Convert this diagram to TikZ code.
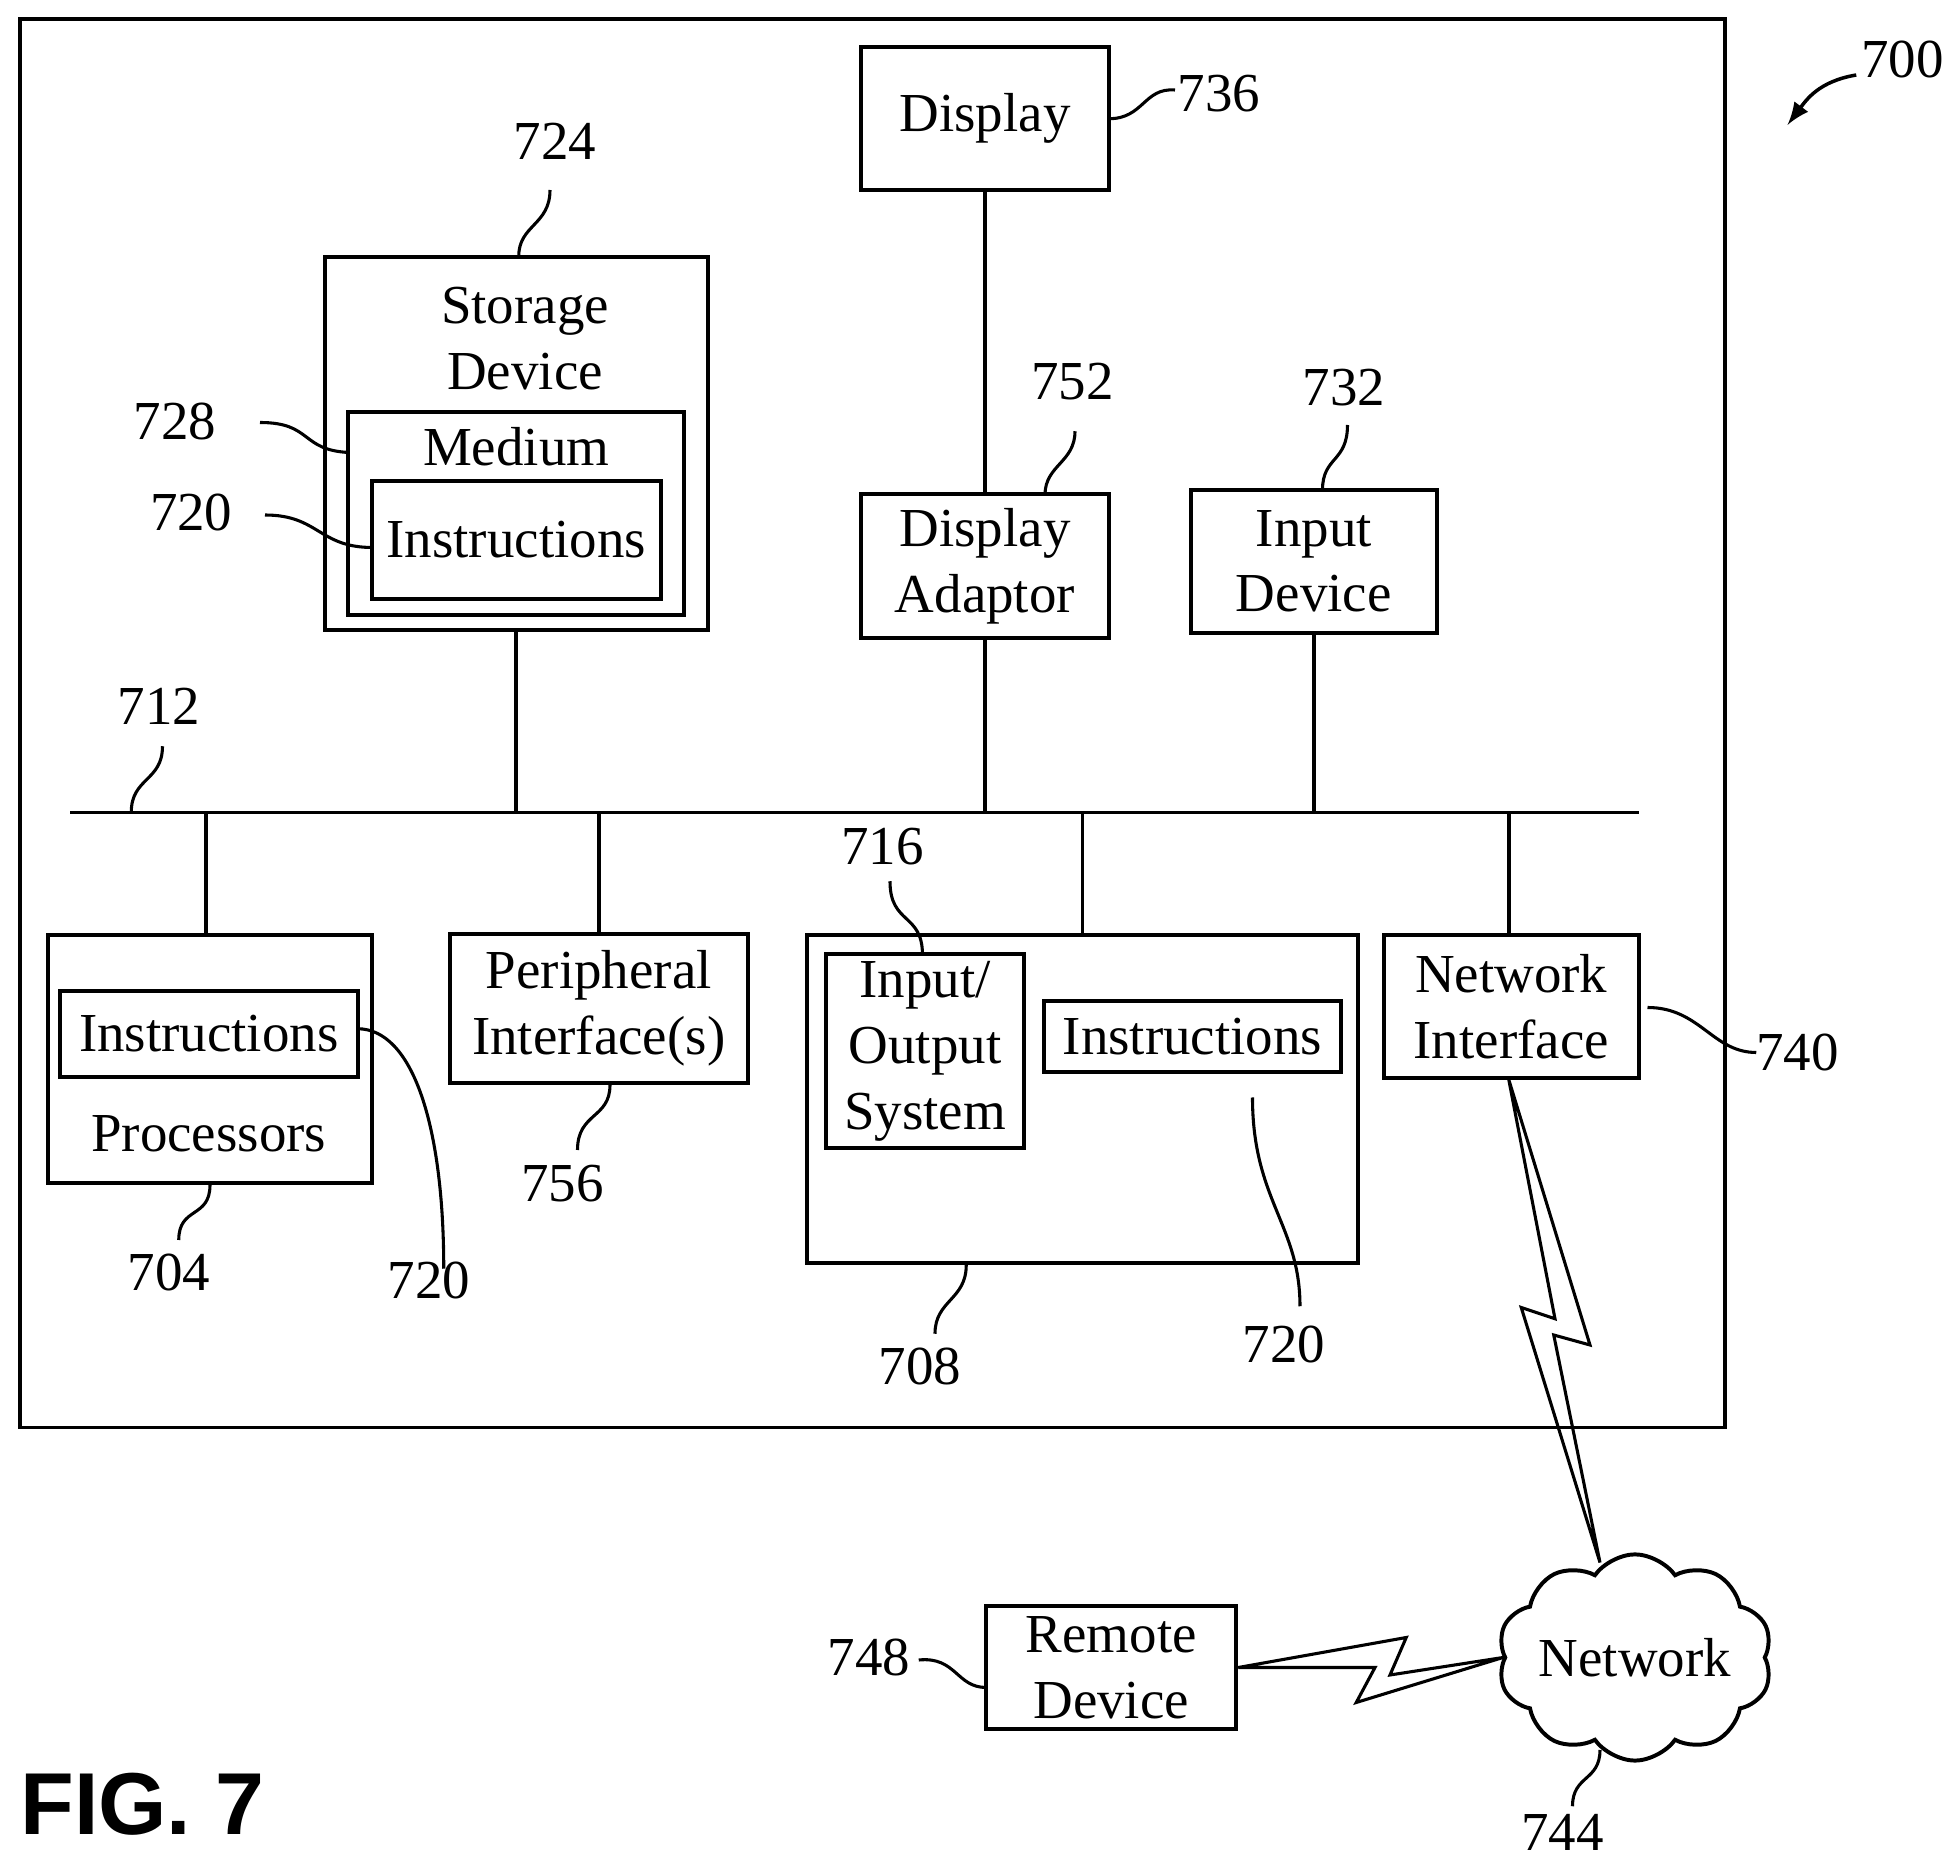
\documentclass[tikz,border=0pt]{standalone}
\usepackage{fontspec}
\setmainfont{Liberation Serif}
\newfontfamily\figfont{Liberation Sans}
\usetikzlibrary{shapes.symbols,positioning}

\begin{document}
\begin{tikzpicture}[
  x=0.01cm,y=-0.01cm,
  >=latex,
  font=\fontsize{12.5}{14}\selectfont,
  box/.style={draw,line width=0.9pt,align=center,inner sep=0pt},
  lbl/.style={inner sep=1pt},
  lead/.style={line width=0.7pt},
  ]
  \useasboundingbox (0,0) rectangle (1568,1500);
  \draw[line width=0.9pt] (16,15) rectangle (1380,1142);

  % upper row
  \node[box, minimum width=1.98cm, minimum height=1.14cm] (disp) at (788,95) {Display};
  \node[box, minimum width=3.06cm, minimum height=2.98cm] (stor) at (413,355) {};
  \node[align=center, inner sep=0pt] (stortxt) at (420,271) {Storage\\[1pt]Device};
  \node[box, minimum width=2.69cm, minimum height=1.62cm] (med) at (413,411) {};
  \node[inner sep=0pt] (medtxt) at (413,357) {Medium};
  \node[box, minimum width=2.31cm, minimum height=0.94cm] (sins) at (413,432) {Instructions};
  \node[box, minimum width=1.98cm, minimum height=1.15cm] (dada) at (788,453) {Display\\[1pt]Adaptor};
  \node[box, minimum width=1.97cm, minimum height=1.14cm] (indev) at (1051,449) {Input\\[1pt]Device};

  % bus
  \coordinate (busl) at (56,650);
  \coordinate (busr) at (1311,650);
  \draw[line width=0.9pt] (busl) -- (busr);

  % lower row
  \node[box, minimum width=2.59cm, minimum height=1.98cm] (proc) at (168,847) {};
  \node[box, minimum width=2.38cm, minimum height=0.69cm] (pins) at (167,827) {Instructions};
  \node[inner sep=0pt] (proctxt) at (167,907) {Processors};
  \node[box, minimum width=2.38cm, minimum height=1.19cm] (peri) at (479,807) {Peripheral\\[1pt]Interface(s)};
  \node[box, minimum width=4.41cm, minimum height=2.62cm] (mem) at (866,879) {};
  \node[box, minimum width=1.59cm, minimum height=1.55cm] (ios) at (740,841) {Input/\\[1pt]Output\\[1pt]System};
  \node[box, minimum width=2.38cm, minimum height=0.57cm] (mins) at (954,829) {Instructions};
  \node[box, minimum width=2.04cm, minimum height=1.14cm] (nif) at (1209,805) {Network\\[1pt]Interface};

  % network side
  \node[cloud, draw, line width=0.9pt, cloud puffs=10, cloud puff arc=110, aspect=1.5,
        inner sep=-1pt] (net) at (1308,1326) {Network};
  \coordinate (nettop) at (1280,1250);
  \node[box, minimum width=2.0cm, minimum height=0.99cm] (rem) at (889,1334) {Remote\\[1pt]Device};

  % links
  \draw[line width=0.9pt] (disp) -- (dada);
  \draw[line width=0.9pt] (stor.south) -- (stor.south |- busl);
  \draw[line width=0.9pt] (dada.south) -- (dada.south |- busl);
  \draw[line width=0.9pt] (indev.south) -- (indev.south |- busl);
  \draw[line width=0.9pt] (proc.north -| 165,0) -- (165,650);
  \draw[line width=0.9pt] (peri.north) -- (peri.north |- busl);
  \draw[line width=0.9pt] (mem.north) -- (mem.north |- busl);
  \draw[line width=0.9pt] (nif.north -| 1207,0) -- (1207,650);
  \draw[lead] (nif.south -| 1207,0) -- (1272,1076) -- (1243,1068) -- (nettop)
     -- (1217,1046) -- (1244,1055) -- cycle;
  \draw[lead] (rem.east) -- (1125,1310) -- (1112,1340) -- (net.west)
     -- (1085,1362) -- (1100,1334) -- cycle;

  % reference numerals
  \node[lbl] (n700) at (1522,48) {700};
  \node[lbl] (n736) at (975,75) {736};
  \node[lbl] (n724) at (444,113) {724};
  \node[lbl] (n728) at (140,337) {728};
  \node[lbl] (n720a) at (153,410) {720};
  \node[lbl] (n752) at (858,305) {752};
  \node[lbl] (n732) at (1075,310) {732};
  \node[lbl] (n712) at (127,565) {712};
  \node[lbl] (n716) at (706,677) {716};
  \node[lbl] (n740) at (1438,842) {740};
  \node[lbl] (n704) at (135,1018) {704};
  \node[lbl] (n720b) at (343,1024) {720};
  \node[lbl] (n756) at (450,947) {756};
  \node[lbl] (n708) at (736,1093) {708};
  \node[lbl] (n720c) at (1027,1076) {720};
  \node[lbl] (n748) at (695,1326) {748};
  \node[lbl] (n744) at (1250,1466) {744};
  \node[inner sep=0pt, font=\figfont\bfseries\fontsize{20}{22}\selectfont] (fig) at (114,1443) {FIG. 7};

  % leaders
  \draw[->, line width=0.8pt] (1485,60) .. controls (1455,65) and (1445,80) .. (1430,100);
  \draw[lead] (887,95) .. controls (915,95) and (915,70) .. (940,72);
  \draw[lead] (440,152) .. controls (440,180) and (415,180) .. (415,205);
  \draw[lead] (208,338) .. controls (250,338) and (240,360) .. (279,362);
  \draw[lead] (212,412) .. controls (255,412) and (255,438) .. (298,438);
  \draw[lead] (860,345) .. controls (860,370) and (836,372) .. (836,396);
  \draw[lead] (1078,340) .. controls (1078,370) and (1058,365) .. (1058,392);
  \draw[lead] (130,597) .. controls (130,625) and (105,622) .. (105,650);
  \draw[lead] (712,705) .. controls (712,740) and (738,730) .. (738,764);
  \draw[lead] (1318,806) .. controls (1360,806) and (1370,842) .. (1405,842);
  \draw[lead] (168,948) .. controls (168,975) and (143,965) .. (143,992);
  \draw[lead] (286,823) .. controls (330,823) and (355,900) .. (355,1015);
  \draw[lead] (488,868) .. controls (488,895) and (462,890) .. (462,920);
  \draw[lead] (773,1012) .. controls (773,1040) and (748,1040) .. (748,1067);
  \draw[lead] (1002,878) .. controls (1002,960) and (1040,980) .. (1040,1045);
  \draw[lead] (735,1328) .. controls (765,1325) and (765,1350) .. (789,1350);
  \draw[lead] (1280,1400) .. controls (1280,1425) and (1258,1420) .. (1258,1445);
\end{tikzpicture}
\end{document}
